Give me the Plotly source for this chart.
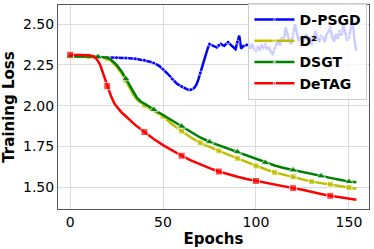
import plotly.graph_objects as go

# ---------------- data ----------------
dpsgd_epochs = list(range(0, 155))
dpsgd_loss = [
    2.305, 2.304, 2.303, 2.303, 2.302, 2.302, 2.301, 2.301, 2.300, 2.300, 2.300, 2.299, 2.299, 2.299, 2.298,
    2.298, 2.298, 2.297, 2.297, 2.297, 2.296, 2.296, 2.296, 2.295, 2.295, 2.295, 2.294, 2.294, 2.293, 2.293,
    2.292, 2.292, 2.291, 2.290, 2.289, 2.288, 2.287, 2.285, 2.283, 2.281, 2.279, 2.276, 2.273, 2.270, 2.266,
    2.262, 2.256, 2.250, 2.243, 2.234, 2.224, 2.213, 2.202, 2.190, 2.177, 2.163, 2.150, 2.140, 2.131, 2.124,
    2.117, 2.111, 2.105, 2.100, 2.097, 2.098, 2.102, 2.112, 2.130, 2.160, 2.200, 2.235, 2.270, 2.310, 2.350,
    2.378, 2.372, 2.368, 2.360, 2.357, 2.370, 2.380, 2.372, 2.368, 2.380, 2.390, 2.378, 2.368, 2.355, 2.347,
    2.390, 2.430, 2.350, 2.365, 2.368, 2.372, 2.378, 2.350, 2.380, 2.345, 2.337, 2.360, 2.345, 2.370, 2.355,
    2.378, 2.345, 2.360, 2.330, 2.317, 2.350, 2.375, 2.398, 2.370, 2.420, 2.400, 2.480, 2.430, 2.395, 2.378,
    2.440, 2.500, 2.445, 2.398, 2.420, 2.390, 2.410, 2.440, 2.400, 2.420, 2.378, 2.420, 2.460, 2.415, 2.390,
    2.430, 2.418, 2.390, 2.440, 2.455, 2.480, 2.420, 2.395, 2.440, 2.410, 2.460, 2.430, 2.500, 2.450, 2.400,
    2.418, 2.470, 2.520, 2.400, 2.337,
]

d2_epochs = [0, 5, 10, 15, 20, 22, 25, 28, 30, 32, 34, 36, 38, 40, 45, 50, 55, 60, 65, 70, 75, 80, 85, 90,
             95, 100, 105, 110, 115, 120, 125, 130, 135, 140, 145, 150, 154]
d2_loss = [2.300, 2.302, 2.301, 2.298, 2.290, 2.275, 2.240, 2.195, 2.155, 2.112, 2.068, 2.038, 2.018, 2.003,
           1.968, 1.935, 1.885, 1.845, 1.805, 1.772, 1.745, 1.723, 1.700, 1.677, 1.652, 1.630, 1.610, 1.591,
           1.578, 1.565, 1.548, 1.534, 1.526, 1.518, 1.508, 1.498, 1.490]

dsgt_epochs = [0, 5, 10, 15, 20, 22, 25, 28, 30, 32, 34, 36, 38, 40, 45, 50, 55, 60, 65, 70, 75, 80, 85, 90,
               95, 100, 105, 110, 115, 120, 125, 130, 135, 140, 145, 150, 154]
dsgt_loss = [2.302, 2.303, 2.302, 2.300, 2.295, 2.282, 2.250, 2.205, 2.165, 2.122, 2.080, 2.048, 2.026, 2.012,
             1.976, 1.945, 1.910, 1.874, 1.835, 1.805, 1.778, 1.757, 1.735, 1.717, 1.695, 1.672, 1.650, 1.633,
             1.618, 1.605, 1.592, 1.580, 1.569, 1.557, 1.545, 1.534, 1.530]

detag_epochs = [0, 5, 10, 12, 14, 16, 18, 20, 22, 24, 26, 28, 30, 32, 35, 40, 45, 50, 55, 60, 65, 70, 75, 80,
                85, 90, 95, 100, 105, 110, 115, 120, 125, 130, 135, 140, 145, 150, 154]
detag_loss = [2.313, 2.312, 2.310, 2.305, 2.290, 2.255, 2.190, 2.120, 2.060, 2.010, 1.980, 1.955, 1.935, 1.912,
              1.882, 1.838, 1.795, 1.758, 1.723, 1.693, 1.665, 1.640, 1.617, 1.596, 1.578, 1.564, 1.550, 1.538,
              1.527, 1.515, 1.505, 1.494, 1.484, 1.470, 1.458, 1.447, 1.438, 1.430, 1.423]

x_ticks = [0, 50, 100, 150]
y_ticks = [1.50, 1.75, 2.00, 2.25, 2.50]

FONT = "DejaVu Sans"


def marker_sizes(epochs, every, size):
    return [size if e % every == 0 else 0 for e in epochs]


fig = go.Figure()
fig.add_trace(go.Scatter(
    x=dpsgd_epochs, y=dpsgd_loss, name="D-PSGD", mode="lines+markers",
    line=dict(color="#0000ff", width=2.5),
    marker=dict(symbol="circle", size=marker_sizes(dpsgd_epochs, 5, 4), color="#0000ff"),
))
fig.add_trace(go.Scatter(
    x=d2_epochs, y=d2_loss, name="D²", mode="lines+markers",
    line=dict(color="#bfbf00", width=2.5),
    marker=dict(symbol="square", size=marker_sizes(d2_epochs, 10, 6), color="#bfbf00"),
))
fig.add_trace(go.Scatter(
    x=dsgt_epochs, y=dsgt_loss, name="DSGT", mode="lines+markers",
    line=dict(color="#008000", width=2.5),
    marker=dict(symbol="triangle-up", size=marker_sizes(dsgt_epochs, 15, 8), color="#008000"),
))
fig.add_trace(go.Scatter(
    x=detag_epochs, y=detag_loss, name="DeTAG", mode="lines+markers",
    line=dict(color="#ff0000", width=2.5),
    marker=dict(symbol="square", size=marker_sizes(detag_epochs, 20, 7), color="#ff0000"),
))

fig.update_layout(
    width=374, height=249,
    margin=dict(l=58, r=5, t=4, b=40),
    paper_bgcolor="white", plot_bgcolor="white",
    font=dict(family=FONT, size=14, color="black"),
    legend=dict(
        x=0.995, y=1.005, xanchor="right", yanchor="top",
        bgcolor="rgba(255,255,255,0.8)", bordercolor="#cccccc", borderwidth=1,
        font=dict(family=FONT, size=14, color="black", weight="bold"),
        itemwidth=40, tracegroupgap=0,
    ),
    showlegend=True,
)
fig.update_xaxes(
    range=[-6.5, 160.8], tickvals=x_ticks, ticks="", automargin=False,
    showgrid=True, gridcolor="#dcdcdc", gridwidth=1,
    showline=True, linecolor="#555555", linewidth=1, mirror=True, zeroline=False,
    tickfont=dict(size=14, family=FONT),
    title=dict(text="<b>Epochs</b>", font=dict(size=15, family=FONT), standoff=0),
)
fig.update_yaxes(
    range=[1.366, 2.618], tickvals=y_ticks, tickformat=".2f", ticks="", automargin=False,
    showgrid=True, gridcolor="#dcdcdc", gridwidth=1,
    showline=True, linecolor="#555555", linewidth=1, mirror=True, zeroline=False,
    tickfont=dict(size=14, family=FONT),
    title=dict(text="<b>Training Loss</b>", font=dict(size=15, family=FONT), standoff=4),
)

fig.write_html(
    "out.html",
    config={"displayModeBar": False},
    post_script="document.body.style.margin='0';document.body.style.padding='0';",
)
